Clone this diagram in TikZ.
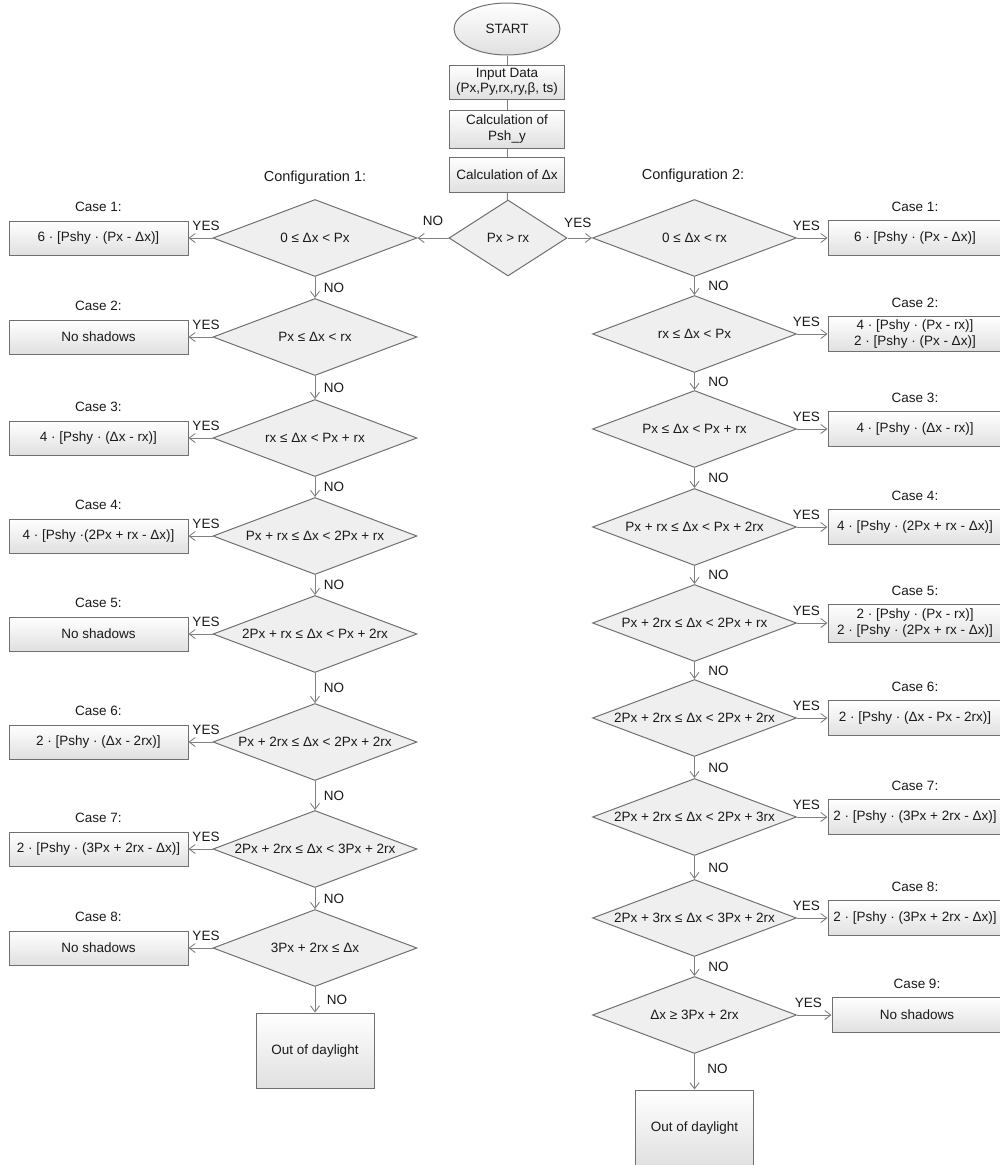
\documentclass[tikz,border=0pt]{standalone}
\usepackage{fontspec}
\setmainfont{Liberation Sans}
\usetikzlibrary{shapes.geometric,arrows.meta}
\definecolor{edgec}{HTML}{707070}
\definecolor{arrc}{HTML}{808080}
\definecolor{dfill}{HTML}{EFEFEF}
\definecolor{bbot}{HTML}{E0E0E0}
\definecolor{txt}{HTML}{1A1A1A}
\begin{document}
\begin{tikzpicture}[x=1pt,y=-1pt,
  every node/.style={font=\fontsize{13.5}{15.5}\selectfont, text=txt},
  box/.style={draw=edgec, line width=1pt, top color=white, bottom color=bbot, inner sep=0pt, align=center},
  lbox/.style={box, minimum width=179, minimum height=34},
  rbox/.style={box, minimum width=174, minimum height=35},
  dia/.style={diamond, draw=edgec, fill=dfill, line width=1pt, minimum width=204, minimum height=77, inner sep=0pt, aspect=2.65},
  ell/.style={ellipse, draw=edgec, line width=1pt, top color=white, bottom color=bbot, minimum width=106, minimum height=52, inner sep=0pt},
  ln/.style={draw=arrc, line width=0.9pt},
  arr/.style={draw=arrc, line width=0.9pt, -{Straight Barb[length=6pt,width=9pt]}},
  yes/.style={yshift=12, inner sep=0pt},
  no/.style={inner sep=0pt},
  cfg/.style={font=\fontsize{14.5}{16}\selectfont},
  case/.style={inner sep=0pt}]
\useasboundingbox (0,0) rectangle (999,1165);

% top
\node[ell] (start) at (507,29) {START};
\node[box, minimum width=115, minimum height=34] (in) at (507,82) {Input Data\\(Px,Py,rx,ry,β, ts)};
\node[box, minimum width=115, minimum height=38] (psh) at (507,129) {Calculation of\\Psh\_y};
\node[box, minimum width=115, minimum height=35] (dx) at (507,174.5) {Calculation of Δx};
\node[dia, minimum width=118, minimum height=76] (top) at (508,238) {Px > rx};
\draw[ln] (start) -- (in);
\draw[ln] (in) -- (psh);
\draw[ln] (psh) -- (dx);
\draw[ln] (dx) -- (top);

\node[cfg] (cfg1) at (315,178) {Configuration 1:};
\node[cfg] (cfg2) at (693,176) {Configuration 2:};

% left column
\node[dia] (L1) at (315,238) {0 ≤ Δx < Px};
\node[dia] (L2) at (315,337) {Px ≤ Δx < rx};
\node[dia] (L3) at (315,438) {rx ≤ Δx < Px + rx};
\node[dia] (L4) at (315,536) {Px + rx ≤ Δx < 2Px + rx};
\node[dia] (L5) at (315,634) {2Px + rx ≤ Δx < Px + 2rx};
\node[dia] (L6) at (315,742) {Px + 2rx ≤ Δx < 2Px + 2rx};
\node[dia] (L7) at (315,849) {2Px + 2rx ≤ Δx < 3Px + 2rx};
\node[dia] (L8) at (315,948) {3Px + 2rx ≤ Δx};
\node[box, minimum width=118, minimum height=75] (LO) at (315,1050.5) {Out of daylight};

\node[lbox] (LB1) at (98.5,238) {6 · [Pshy · (Px - Δx)]};
\node[lbox] (LB2) at (98.5,337) {No shadows};
\node[lbox] (LB3) at (98.5,438) {4 · [Pshy · (Δx - rx)]};
\node[lbox] (LB4) at (98.5,536) {4 · [Pshy ·(2Px + rx - Δx)]};
\node[lbox] (LB5) at (98.5,634) {No shadows};
\node[lbox] (LB6) at (98.5,742) {2 · [Pshy · (Δx - 2rx)]};
\node[lbox] (LB7) at (98.5,849) {2 · [Pshy · (3Px + 2rx - Δx)]};
\node[lbox] (LB8) at (98.5,948) {No shadows};

\foreach \i in {1,...,8}{
  \node[case] at ([yshift=14]LB\i.north) {Case \i:};
  \draw[arr] (L\i.west) -- node[yes, xshift=5.5]{YES} (LB\i.east);
}
\foreach \i/\j in {1/2,2/3,3/4,4/5,5/6,6/7,7/8}{
  \draw[arr] (L\i.south) -- node[no, xshift=19]{NO} (L\j.north);
}
\draw[arr] (L8.south) -- node[no, xshift=22]{NO} (LO.north);

% right column
\node[dia] (R1) at (694.5,238) {0 ≤ Δx < rx};
\node[dia] (R2) at (694.5,334) {rx ≤ Δx < Px};
\node[dia] (R3) at (694.5,429) {Px ≤ Δx < Px + rx};
\node[dia] (R4) at (694.5,527) {Px + rx ≤ Δx < Px + 2rx};
\node[dia] (R5) at (694.5,623) {Px + 2rx ≤ Δx < 2Px + rx};
\node[dia] (R6) at (694.5,718) {2Px + 2rx ≤ Δx < 2Px + 2rx};
\node[dia] (R7) at (694.5,817) {2Px + 2rx ≤ Δx < 2Px + 3rx};
\node[dia] (R8) at (694.5,918) {2Px + 3rx ≤ Δx < 3Px + 2rx};
\node[dia] (R9) at (694.5,1015) {Δx ≥ 3Px + 2rx};
\node[box, minimum width=118, minimum height=76] (RO) at (694.5,1128) {Out of daylight};

\node[rbox] (RB1) at (915,238) {6 · [Pshy · (Px - Δx)]};
\node[rbox] (RB2) at (915,334) {4 · [Pshy · (Px - rx)]\\2 · [Pshy · (Px - Δx)]};
\node[rbox] (RB3) at (915,429) {4 · [Pshy · (Δx - rx)]};
\node[rbox] (RB4) at (915,527) {4 · [Pshy · (2Px + rx - Δx)]};
\node[rbox, minimum height=38] (RB5) at (915,623) {2 · [Pshy · (Px - rx)]\\2 · [Pshy · (2Px + rx - Δx)]};
\node[rbox] (RB6) at (915,718) {2 · [Pshy · (Δx - Px - 2rx)]};
\node[rbox] (RB7) at (915,817) {2 · [Pshy · (3Px + 2rx - Δx)]};
\node[rbox] (RB8) at (915,918) {2 · [Pshy · (3Px + 2rx - Δx)]};
\node[rbox, minimum width=170] (RB9) at (917,1015) {No shadows};

\foreach \i in {1,...,9}{
  \node[case] at ([yshift=13]RB\i.north) {Case \i:};
  \draw[arr] (R\i.east) -- node[yes, xshift=-6]{YES} (RB\i.west);
}
\foreach \i/\j in {1/2,2/3,3/4,4/5,5/6,6/7,7/8,8/9}{
  \draw[arr] (R\i.south) -- node[no, xshift=24]{NO} (R\j.north);
}
\draw[arr] (R9.south) -- node[no, xshift=23, yshift=3]{NO} (RO.north);

% top decision branches
\draw[arr] (top.west) -- node[no, yshift=17]{NO} (L1.east);
\draw[arr] (top.east) -- node[no, yshift=15, xshift=-2]{YES} (R1.west);
\end{tikzpicture}
\end{document}
